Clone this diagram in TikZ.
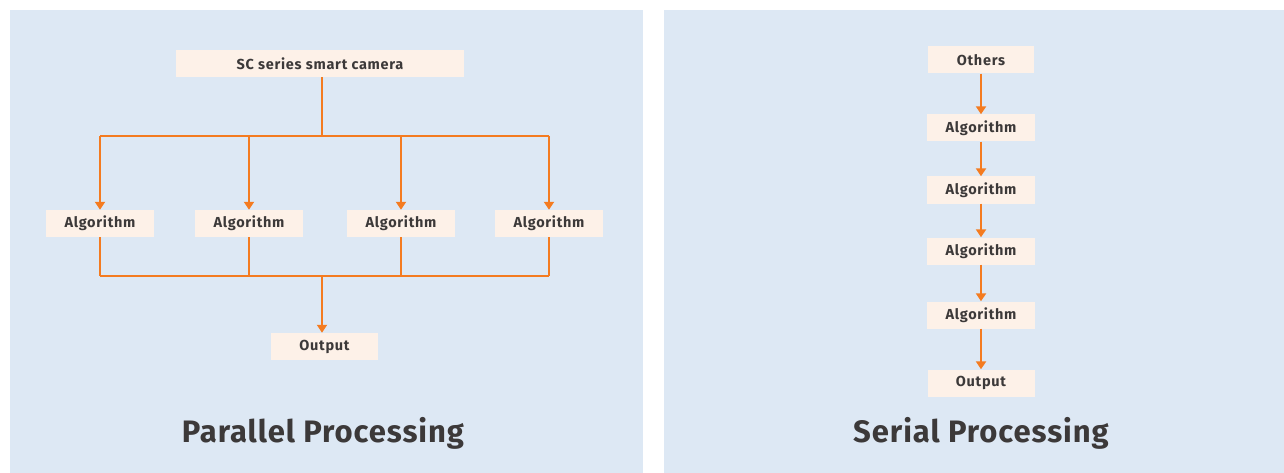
\documentclass[tikz,border=0pt]{standalone}
\usepackage{fontspec}
\setmainfont{Fira Sans}
\usetikzlibrary{arrows.meta}
\definecolor{panelblue}{HTML}{DDE8F4}
\definecolor{boxcream}{HTML}{FDF1E8}
\definecolor{flow}{HTML}{F47B20}
\definecolor{ink}{HTML}{3C3939}
\tikzset{
    base/.style={rectangle, fill=boxcream, minimum width=108pt, minimum height=27pt, align=center, text=ink, font=\fontsize{14.5}{16}\selectfont\bfseries\addfontfeatures{LetterSpace=5}},
    title/.style={text=ink, font=\fontsize{31}{34}\selectfont\bfseries\addfontfeatures{LetterSpace=3}},
    line/.style={draw=flow, line width=2pt},
    arrow/.style={line, -{Triangle[length=8pt,width=10pt]}}
}

\begin{document}
\begin{tikzpicture}[x=1pt,y=-1pt]
\useasboundingbox (0,0) rectangle (1284,473);
\fill[white] (0,0) rectangle (1284,473);
\fill[panelblue] (10,10) rectangle (643,473);
\fill[panelblue] (664,10) rectangle (1284,473);

% parallel processing
\node[base, minimum width=288pt] (cam) at (320,63.5) {SC series smart camera};
\node[base] (alg1) at (100,223.5) {Algorithm};
\node[base] (alg2) at (249,223.5) {Algorithm};
\node[base] (alg3) at (401,223.5) {Algorithm};
\node[base] (alg4) at (549,223.5) {Algorithm};
\node[base, minimum width=107pt] (out1) at (324.5,346.5) {Output};
\coordinate (split) at (322,136);
\coordinate (join) at (322,276);
\draw[line] (split |- cam.south) -- (split);
\draw[line] (alg1 |- split) -- (alg4 |- split);
\foreach \i in {1,...,4} \draw[arrow] (alg\i |- split) -- (alg\i);
\foreach \i in {1,...,4} \draw[line] (alg\i) -- (alg\i |- join);
\draw[line] (alg1 |- join) -- (alg4 |- join);
\draw[arrow] (join) -- (join |- out1.north);
\node[title] (ptitle) at (323,433) {Parallel Processing};

% serial processing
\node[base, minimum width=106pt] (oth) at (981,60) {Others};
\node[base, below of=oth, node distance=68pt] (ser1) {Algorithm};
\node[base, below of=ser1, node distance=62pt] (ser2) {Algorithm};
\node[base, below of=ser2, node distance=61pt] (ser3) {Algorithm};
\node[base, below of=ser3, node distance=64pt] (ser4) {Algorithm};
\node[base, minimum width=107pt, below of=ser4, node distance=68pt] (out2) {Output};
\draw[arrow] (oth) -- (ser1);
\draw[arrow] (ser1) -- (ser2);
\draw[arrow] (ser2) -- (ser3);
\draw[arrow] (ser3) -- (ser4);
\draw[arrow] (ser4) -- (out2);
\node[title] (stitle) at (981,433) {Serial Processing};
\end{tikzpicture}
\end{document}
